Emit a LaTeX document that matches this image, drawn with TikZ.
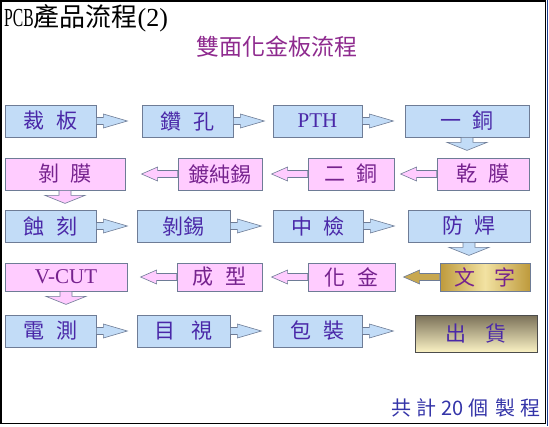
\documentclass[tikz,border=0pt]{standalone}
\usepackage{fontspec}
\usepackage{graphicx}
\setmainfont{Liberation Serif}
\newfontfamily\cjk{Noto Sans CJK TC}
\usetikzlibrary{positioning}
\definecolor{boxblue}{HTML}{C2DCF7}
\definecolor{boxpink}{HTML}{FFCCFF}
\definecolor{edgegray}{HTML}{6E7C96}
\definecolor{txtblue}{HTML}{4A28A8}
\definecolor{txtpurple}{HTML}{76228E}
\definecolor{titlepurple}{HTML}{8E2A8E}
\definecolor{noteblue}{HTML}{3434A8}
\definecolor{golddark}{HTML}{BE9A3C}
\definecolor{goldlight}{HTML}{F2E2A2}
\definecolor{shipdark}{HTML}{7A7058}
\definecolor{shiplight}{HTML}{FAF2C4}
\definecolor{frameblue}{HTML}{1F3F8F}
\tikzset{
  box/.style={draw=edgegray, line width=0.8pt, minimum height=32pt, inner sep=0pt, font=\cjk\fontsize{21}{24}\selectfont},
  bluebox/.style={box, fill=boxblue, text=txtblue},
  pinkbox/.style={box, fill=boxpink, text=txtpurple},
  goldbox/.style={box, left color=golddark, right color=golddark, middle color=goldlight, text=txtpurple},
  shipbox/.style={box, draw=black!70, top color=shipdark, bottom color=shiplight, text=txtblue},
  latin/.style={font=\fontsize{21}{24}\selectfont},
  blk/.style={draw=edgegray, line width=0.6pt, line join=miter}}
\newcommand{\gap}{\hspace{0.55em}}
% block arrows, starting at the side of a box
\newcommand{\rarr}[2]{\filldraw[blk, fill=#2] (#1.east) ++(0,-3.5) -- ++(7,0) -- ++(0,-3.5) -- ++(24,7) -- ++(-24,7) -- ++(0,-3.5) -- ++(-7,0) -- cycle;}
\newcommand{\larr}[2]{\filldraw[blk, fill=#2] (#1.west) ++(0,-3.5) -- ++(-20,0) -- ++(0,-3.5) -- ++(-16,7) -- ++(16,7) -- ++(0,-3.5) -- ++(20,0) -- cycle;}
\newcommand{\darr}[2]{\filldraw[blk, fill=#2] (#1.south) ++(-6,0) -- ++(0,5) -- ++(-14,0) -- ++(20,8) -- ++(20,-8) -- ++(-14,0) -- ++(0,-5) -- cycle;}

\begin{document}
\begin{tikzpicture}[x=1pt, y=-1pt]
  \useasboundingbox (0,0) rectangle (549,426);
  \draw[line width=1.5pt] (1,1) rectangle (545.5,423.5);
  \draw[frameblue, line width=1.5pt] (547.7,0) -- (547.7,426);
  % titles
  \node[anchor=west, inner sep=0pt] (pcb) at (4,18) {\fontsize{26}{28}\selectfont\scalebox{0.6}[1]{PCB}{\cjk 產品流程}(2)};
  \node[font=\cjk\fontsize{23}{26}\selectfont, text=titlepurple] (title) at (277,47) {雙面化金板流程};
  \node[anchor=east, inner sep=0pt, font=\cjk\fontsize{20}{22}\selectfont, text=noteblue] (total) at (541,408) {共\hspace{5pt}計\hspace{5pt}20\hspace{5pt}個\hspace{7pt}製\hspace{5pt}程};
  % row 1
  \node[bluebox, minimum width=91pt] (cai) at (50.5,121) {裁\gap 板};
  \node[bluebox, minimum width=91pt] (zuan) at (187.5,121) {鑽\gap 孔};
  \node[bluebox, minimum width=89pt, latin] (pth) at (317.5,121) {PTH};
  \node[bluebox, minimum width=124pt] (yitong) at (467,121) {一\gap 銅};
  % row 2
  \node[pinkbox, minimum width=120pt] (bomo) at (65,174) {剝\gap 膜};
  \node[pinkbox, minimum width=84pt] (duxi) at (220,174) {鍍純錫};
  \node[pinkbox, minimum width=86pt] (ertong) at (351,174) {二\gap 銅};
  \node[pinkbox, minimum width=92pt] (ganmo) at (483,174) {乾\gap 膜};
  % row 3
  \node[bluebox, minimum width=91pt] (shike) at (50.5,226) {蝕\gap 刻};
  \node[bluebox, minimum width=93pt] (boxi) at (183.5,226) {剝錫};
  \node[bluebox, minimum width=90pt] (zhongjian) at (318,226) {中\gap 檢};
  \node[bluebox, minimum width=122pt] (fanghan) at (469,226) {防\gap 焊};
  % row 4
  \node[pinkbox, minimum width=122pt, minimum height=28pt, latin] (vcut) at (66,277) {V-CUT};
  \node[pinkbox, minimum width=85pt, minimum height=28pt] (chengxing) at (219.5,277) {成\gap 型};
  \node[pinkbox, minimum width=87pt, minimum height=28pt] (huajin) at (351.5,277) {化\gap 金};
  \node[goldbox, minimum width=90pt, minimum height=28pt] (wenzi) at (485,277) {文\hspace{0.9em}字};
  % row 5
  \node[bluebox, minimum width=91pt] (dianche) at (50.5,331) {電\gap 測};
  \node[bluebox, minimum width=93pt] (mushi) at (183.5,331) {目\hspace{0.8em}視};
  \node[bluebox, minimum width=89pt] (baozhuang) at (317.5,331) {包\gap 裝};
  \node[shipbox, minimum width=122pt, minimum height=37pt] (chuhuo) at (476,333.5) {出\hspace{0.9em}貨};
  % arrows
  \rarr{cai}{boxblue} \rarr{zuan}{boxblue} \rarr{pth}{boxblue}
  \darr{yitong}{boxblue}
  \larr{ganmo}{boxpink} \larr{ertong}{boxpink} \larr{duxi}{boxpink}
  \darr{bomo}{boxpink}
  \rarr{shike}{boxblue} \rarr{boxi}{boxblue} \rarr{zhongjian}{boxblue}
  \darr{fanghan}{boxblue}
  \larr{wenzi}{golddark!80!goldlight} \larr{huajin}{boxpink} \larr{chengxing}{boxpink}
  \darr{vcut}{boxpink}
  \rarr{dianche}{boxblue} \rarr{mushi}{boxblue} \rarr{baozhuang}{boxblue}
\end{tikzpicture}
\end{document}
